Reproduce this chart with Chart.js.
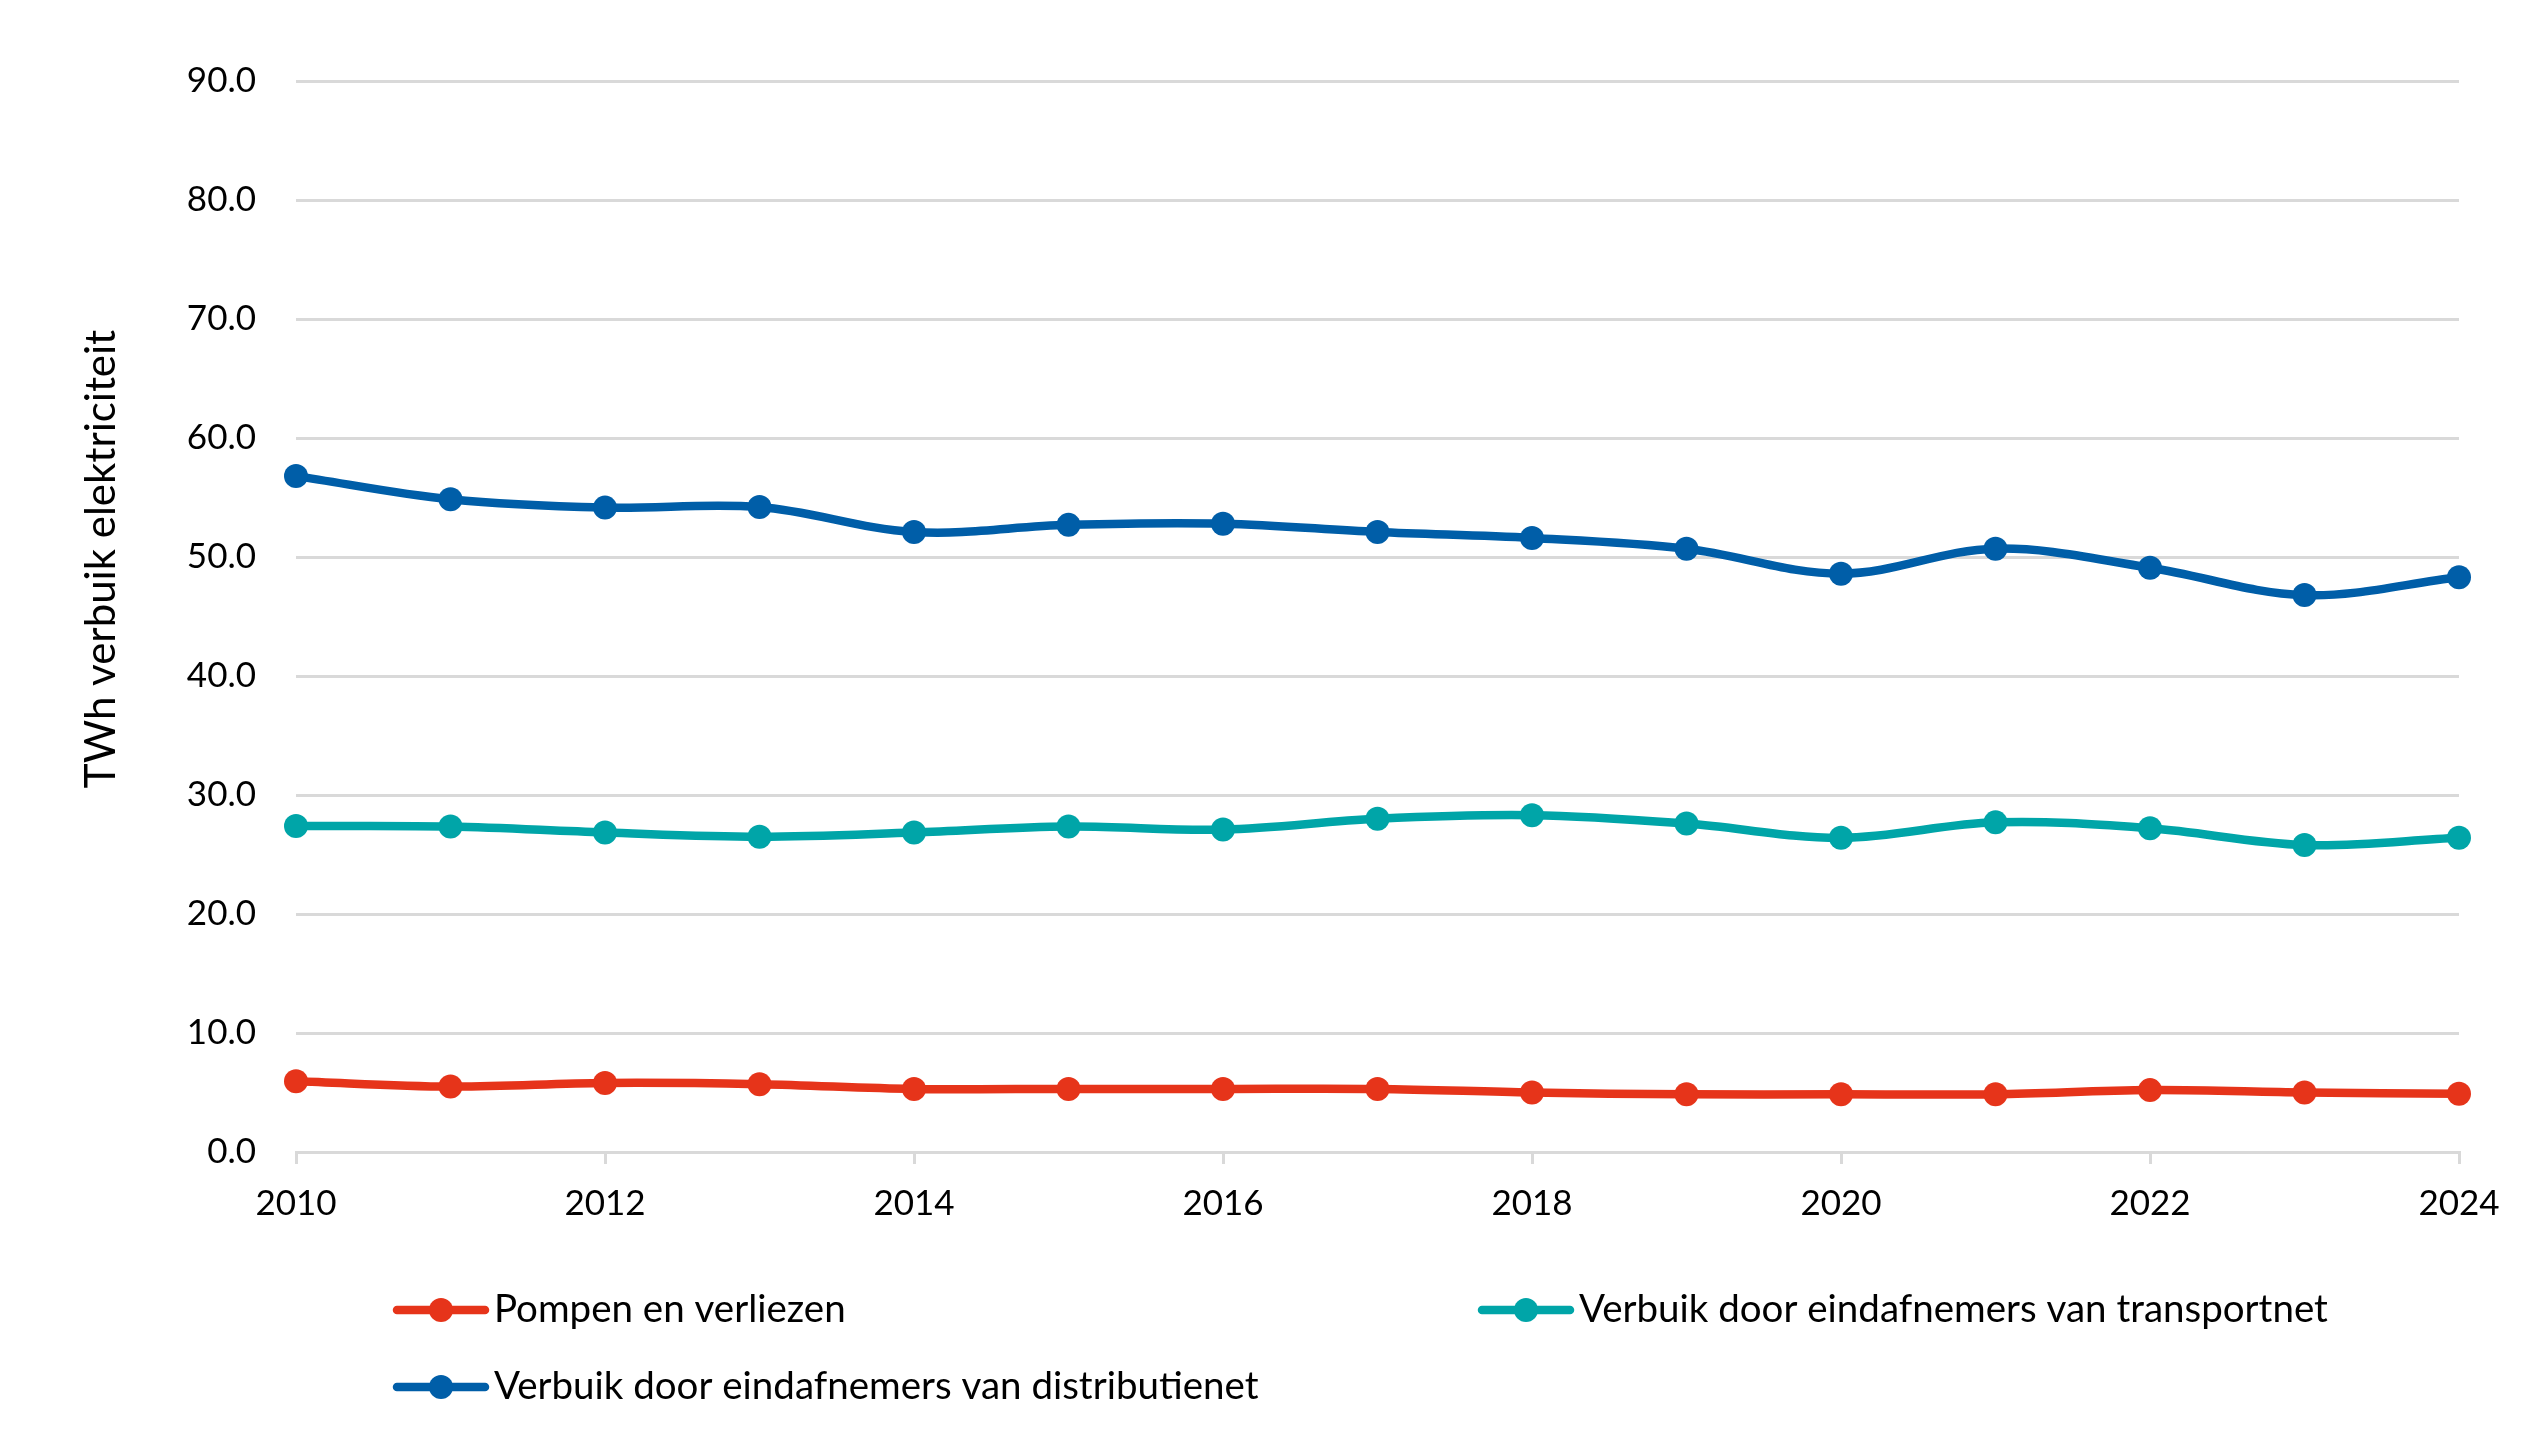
<!DOCTYPE html>
<html>
<head>
<meta charset="utf-8">
<script src="https://cdn.jsdelivr.net/npm/chart.js@4/dist/chart.umd.min.js"></script>
<style>
  html, body { margin: 0; padding: 0; background: #ffffff; }
  #wrap { width: 2548px; height: 1455px; position: relative; }
</style>
</head>
<body>
<div id="wrap"><canvas id="c" width="2548" height="1455"></canvas></div>
<script>
const years = [2010, 2011, 2012, 2013, 2014, 2015, 2016, 2017, 2018, 2019, 2020, 2021, 2022, 2023, 2024];
const pompenVerliezen = [5.95, 5.5, 5.8, 5.7, 5.3, 5.3, 5.3, 5.3, 5.0, 4.85, 4.85, 4.85, 5.2, 5.0, 4.9];
const transportnet = [27.4, 27.35, 26.85, 26.5, 26.85, 27.35, 27.1, 28.0, 28.3, 27.6, 26.4, 27.7, 27.2, 25.8, 26.4];
const distributienet = [56.8, 54.85, 54.15, 54.2, 52.1, 52.7, 52.8, 52.1, 51.6, 50.7, 48.6, 50.7, 49.1, 46.8, 48.3];
const seriesLabels = ['Pompen en verliezen', 'Verbuik door eindafnemers van transportnet', 'Verbuik door eindafnemers van distributienet'];
const seriesColors = ['#E6341A', '#00A5A8', '#005EA8'];
const yTitle = 'TWh verbuik elektriciteit';
const yTicks = [0, 10, 20, 30, 40, 50, 60, 70, 80, 90];

const FONT = 'Lato, "Open Sans", sans-serif';

function toPoints(arr) { return years.map((y, i) => ({ x: y, y: arr[i] })); }

const seriesValues = [pompenVerliezen, transportnet, distributienet];
const datasets = seriesValues.map((vals, i) => ({
  label: seriesLabels[i],
  data: toPoints(vals),
  borderColor: seriesColors[i],
  backgroundColor: seriesColors[i],
  pointBackgroundColor: seriesColors[i],
  pointBorderWidth: 0,
  pointRadius: 12,
  borderWidth: 8.5,
  tension: 0.35,
  fill: false,
  clip: false
}));

const customDecor = {
  id: 'customDecor',
  afterDraw(chart) {
    const ctx = chart.ctx;
    ctx.save();
    // Y axis title
    ctx.translate(101, 559);
    ctx.rotate(-Math.PI / 2);
    ctx.fillStyle = '#000000';
    ctx.font = '42px ' + FONT;
    ctx.textAlign = 'center';
    ctx.textBaseline = 'middle';
    ctx.fillText(yTitle, 0, 0);
    ctx.restore();

    // Legend (two-column grid)
    const colX = [393, 1478];
    const rowY = [1310, 1387];
    chart.data.datasets.forEach((ds, i) => {
      const x = colX[i % 2];
      const y = rowY[Math.floor(i / 2)];
      ctx.save();
      ctx.strokeStyle = ds.borderColor;
      ctx.lineWidth = 8.5;
      ctx.lineCap = 'round';
      ctx.beginPath();
      ctx.moveTo(x + 4, y);
      ctx.lineTo(x + 92, y);
      ctx.stroke();
      ctx.fillStyle = ds.borderColor;
      ctx.beginPath();
      ctx.arc(x + 48, y, 12, 0, Math.PI * 2);
      ctx.fill();
      ctx.fillStyle = '#000000';
      ctx.font = '38.5px ' + FONT;
      ctx.textAlign = 'left';
      ctx.textBaseline = 'middle';
      ctx.fillText(ds.label, x + 101, y);
      ctx.restore();
    });
  }
};

new Chart(document.getElementById('c'), {
  type: 'line',
  data: { datasets },
  options: {
    responsive: false,
    animation: false,
    devicePixelRatio: 1,
    layout: { padding: { top: 81, right: 89, bottom: 0, left: 0 } },
    plugins: {
      legend: { display: false },
      tooltip: { enabled: false },
      title: { display: false }
    },
    scales: {
      x: {
        type: 'linear',
        min: years[0],
        max: years[years.length - 1],
        ticks: {
          stepSize: 2,
          autoSkip: false,
          callback: (v) => String(v),
          color: '#000000',
          font: { family: FONT, size: 35 },
          padding: 19,
          maxRotation: 0
        },
        grid: {
          drawOnChartArea: false,
          drawTicks: true,
          tickLength: 12,
          color: '#D9D9D9',
          lineWidth: 3
        },
        border: { display: true, color: '#D9D9D9', width: 3 },
        afterFit(scale) { scale.height = 303; }
      },
      y: {
        min: yTicks[0],
        max: yTicks[yTicks.length - 1],
        afterBuildTicks(scale) { scale.ticks = yTicks.map(v => ({ value: v })); },
        ticks: {
          callback: (v) => Number(v).toFixed(1),
          color: '#000000',
          font: { family: FONT, size: 35 },
          padding: 40
        },
        grid: {
          drawTicks: false,
          color: '#D9D9D9',
          lineWidth: 3
        },
        border: { display: false },
        afterFit(scale) { scale.width = 296; }
      }
    }
  },
  plugins: [customDecor]
});
</script>
</body>
</html>
